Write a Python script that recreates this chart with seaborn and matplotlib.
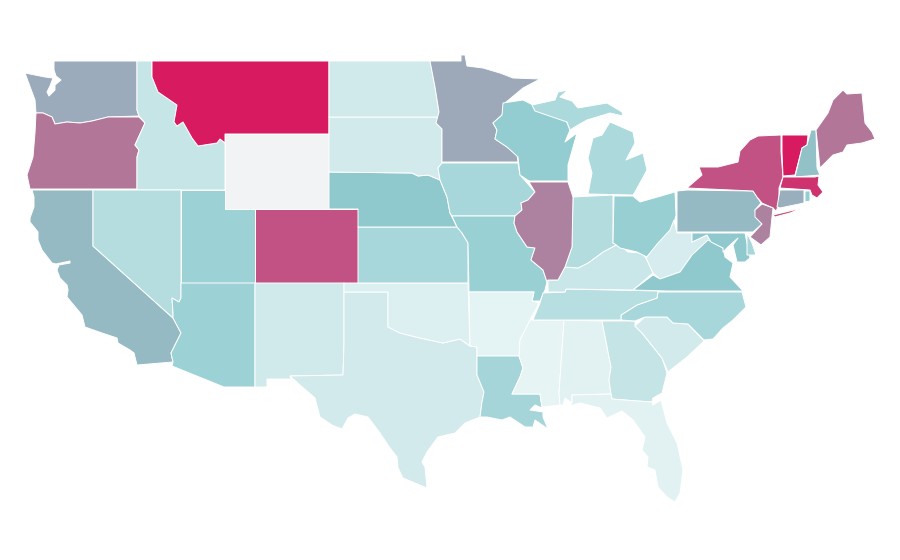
import seaborn as sns
from matplotlib import pyplot as plt
from matplotlib.collections import PolyCollection

# state outlines (x, y from top left)
WA = [(54,61),(137,61),(137,110),(139,116),(108,117),(92,121),(80,123),(67,122),(55,124),(52,117),(43,113),(36,113),(35,100),(25,73),(45,77),(53,78),(50,86),(47,92),(49,96),(55,90),(55,85),(61,80),(56,76),(54,70)]
OR = [(36,113),(43,113),(52,117),(55,124),(67,122),(80,123),(92,121),(108,117),(139,117),(145,123),(135,145),(139,150),(137,157),(137,189),(30,189),(27,175),(33,157),(35,133)]
ID = [(137,61),(152,61),(152,77),(158,92),(177,105),(174,122),(177,126),(183,122),(192,138),(198,146),(217,143),(220,139),(225,143),(225,190),(137,190),(137,157),(139,150),(135,145),(145,123),(139,116),(137,110)]
MT = [(152,61),(329,61),(329,134),(225,134),(225,143),(220,139),(217,143),(198,146),(192,138),(183,122),(177,126),(174,122),(177,105),(158,92),(152,77)]
WY = [(225,134),(329,134),(329,209),(225,209)]
CA = [(32,190),(93,190),(93,246),(173,318),(181,333),(174,347),(171,353),(173,362),(137,365),(134,353),(130,350),(118,343),(117,338),(102,333),(85,327),(82,315),(67,297),(68,290),(67,285),(60,278),(57,270),(59,265),(70,263),(70,261),(56,264),(52,263),(42,250),(38,240),(38,232),(30,222),(30,218),(34,207),(34,197)]
NV = [(93,190),(181,190),(181,298),(179,302),(172,298),(173,313),(173,318),(93,246)]
UT = [(181,190),(225,190),(225,209),(255,209),(255,283),(181,283)]
CO = [(255,209),(358,209),(358,283),(255,283)]
AZ = [(181,283),(255,283),(255,387),(224,387),(172,366),(173,362),(171,353),(174,347),(181,333),(173,318),(173,313),(172,298),(179,302),(181,298)]
NM = [(255,283),(344,283),(344,343),(343,375),(290,376),(291,379),(267,379),(267,387),(255,387)]
TX = [(344,292),(388,292),(388,327),(400,333),(420,338),(443,343),(460,339),(470,346),(477,347),(477,375),(484,392),(482,402),(480,417),(465,423),(455,433),(438,437),(427,452),(422,462),(425,467),(427,488),(403,478),(398,468),(397,457),(390,448),(380,433),(368,417),(355,414),(348,418),(342,429),(332,425),(320,417),(315,398),(300,385),(290,376),(343,375),(344,343)]
OK = [(344,283),(468,283),(470,346),(460,339),(443,343),(420,338),(400,333),(388,327),(388,292),(344,292)]
KS = [(358,227),(457,227),(462,233),(468,243),(468,283),(358,283)]
NE = [(329,172),(412,173),(418,176),(428,175),(440,180),(447,197),(450,213),(457,227),(358,227),(358,209),(329,209)]
SD = [(329,117),(439,117),(436,123),(442,129),(442,163),(438,168),(440,180),(428,175),(418,176),(412,173),(329,172)]
ND = [(329,61),(430,61),(435,87),(439,112),(439,117),(329,117)]
MN = [(430,61),(461,61),(461,55),(465,55),(467,66),(483,68),(500,73),(513,78),(540,79),(523,88),(505,103),(502,115),(493,123),(497,130),(495,139),(507,147),(517,155),(518,162),(442,162),(442,129),(436,123),(439,112),(435,87)]
IA = [(442,163),(518,163),(520,175),(535,192),(528,200),(521,203),(522,210),(515,216),(452,216),(450,213),(447,197),(440,180),(438,168)]
MO = [(452,216),(515,216),(514,223),(517,232),(527,247),(535,248),(531,260),(543,270),(547,282),(545,290),(540,301),(532,301),(534,292),(469,292),(468,243),(462,233),(457,227)]
AR = [(469,292),(534,292),(532,301),(539,303),(530,320),(520,340),(519,356),(477,356),(477,347),(470,346)]
LA = [(477,356),(519,356),(523,368),(520,377),(512,394),(540,394),(542,408),(535,405),(530,410),(543,412),(543,417),(548,429),(535,420),(533,427),(525,427),(510,417),(502,420),(487,417),(480,417),(482,402),(484,392),(477,375)]
MS = [(530,320),(564,320),(559,393),(560,405),(542,407),(540,394),(512,394),(520,377),(523,368),(519,356),(520,340)]
AL = [(564,320),(602,321),(611,367),(609,380),(611,394),(572,395),(572,403),(565,398),(563,405),(560,405),(559,393)]
GA = [(602,321),(635,321),(635,326),(642,333),(662,358),(667,373),(662,393),(653,398),(652,402),(637,401),(612,399),(611,394),(609,380),(611,367)]
FL = [(572,395),(611,394),(612,399),(637,401),(652,402),(653,405),(661,400),(667,423),(677,443),(683,470),(680,493),(675,502),(667,497),(658,487),(655,470),(647,467),(648,457),(642,450),(645,437),(633,420),(622,411),(607,418),(600,408),(580,403),(570,406),(572,403)]
SC = [(635,326),(645,317),(667,317),(673,323),(688,324),(704,341),(687,357),(668,372),(662,358),(642,333)]
NC = [(658,292),(742,292),(746,307),(733,320),(723,328),(713,339),(704,340),(688,324),(673,323),(667,317),(645,317),(635,321),(621,320),(621,315),(637,305),(657,298)]
TN = [(543,293),(565,292),(566,289),(658,291),(657,298),(637,305),(621,315),(621,320),(533,320),(540,303)]
KY = [(548,292),(565,292),(566,289),(633,290),(653,273),(646,258),(641,253),(628,252),(618,244),(603,252),(588,263),(578,268),(565,267),(558,280),(548,280)]
IN = [(573,197),(613,195),(613,243),(618,244),(603,252),(588,263),(578,268),(565,267),(572,247)]
IL = [(529,182),(568,182),(573,197),(572,247),(565,267),(558,280),(548,280),(547,282),(543,270),(531,260),(535,248),(527,247),(517,232),(514,223),(515,216),(522,210),(521,203),(528,200),(535,192)]
WI = [(503,103),(523,100),(533,105),(535,110),(565,118),(570,130),(565,142),(577,133),(568,165),(568,181),(529,181),(520,175),(518,157),(507,147),(495,139),(497,130),(493,123),(502,115)]
MI = [(610,122),(633,132),(635,143),(626,160),(643,153),(647,170),(635,192),(633,195),(588,194),(592,173),(588,158),(593,138),(602,135)]
MI_UPPER = [(532,105),(555,100),(558,92),(568,90),(560,97),(572,101),(578,108),(607,103),(622,112),(623,116),(610,113),(587,120),(578,125),(570,130),(567,122),(535,111)]
OH = [(614,196),(633,196),(640,202),(675,192),(676,215),(672,232),(657,245),(647,257),(637,252),(620,248),(615,244),(613,243)]
WV = [(646,258),(658,243),(670,230),(674,220),(677,233),(692,233),(692,242),(707,235),(711,242),(700,248),(692,255),(680,272),(660,279),(653,273)]
VA = [(633,290),(653,275),(660,279),(680,272),(692,255),(708,240),(723,248),(725,257),(733,263),(730,277),(743,291),(667,291)]
MD = [(692,233),(745,233),(750,258),(745,262),(737,262),(733,245),(738,238),(730,245),(723,252),(723,248),(711,242),(707,235),(692,242)]
DE = [(747,233),(747,255),(756,255),(752,243)]
PA = [(677,191),(687,190),(753,191),(757,197),(761,203),(755,210),(756,217),(762,224),(753,232),(677,232)]
NY = [(687,188),(702,175),(699,167),(718,167),(738,162),(740,151),(750,140),(758,136),(781,135),(781,152),(783,177),(779,188),(779,205),(776,211),(773,208),(762,203),(757,197),(753,191)]
NY_ISLAND = [(773,215),(802,208),(790,213),(775,217)]
NJ = [(762,204),(773,208),(772,217),(770,237),(761,245),(750,237),(762,224),(755,217),(755,210)]
VT = [(782,135),(808,135),(807,145),(802,148),(795,175),(783,176),(782,152)]
NH = [(811,130),(816,130),(817,168),(820,175),(795,177),(802,148),(807,145)]
ME = [(816,130),(828,113),(833,100),(843,90),(847,94),(862,93),(865,123),(872,132),(875,139),(862,143),(847,145),(843,152),(833,155),(820,168)]
MA = [(783,177),(815,177),(819,176),(818,185),(823,192),(817,198),(812,195),(810,190),(780,188)]
MA_ISLAND = [(822,198),(830,195),(824,197)]
CT = [(780,190),(804,190),(804,203),(780,208),(777,207)]
RI = [(805,191),(810,191),(810,201),(805,202)]

state_shapes = [WA, OR, ID, MT, WY, CA, NV, UT, CO, AZ, NM, TX, OK, KS, NE, SD, ND, MN, IA, MO, AR, LA, MS, AL, GA, FL, SC, NC, TN, KY, IN, IL, WI, MI, MI_UPPER, OH, WV, VA, MD, DE, PA, NY, NY_ISLAND, NJ, VT, NH, ME, MA, MA_ISLAND, CT, RI]
# values read from the fill colours, nan = no data (Wyoming)
state_values = [59, 74, 25, 100, float("nan"), 55, 33, 44, 84, 44, 21, 20, 15, 39, 51, 20, 21, 60, 39, 45, 12, 40, 11, 13, 26, 13, 20, 39, 32, 24, 34, 71, 48, 37, 37, 46, 18, 51, 51, 39, 55, 84, 84, 71, 100, 53, 74, 93, 93, 58, 47]

sns.set_style("white")
cmap = sns.blend_palette(["#ffffff", "#8ecbcf", "#d81b60"], as_cmap=True)
cmap.set_bad("#f2f3f5")

fig, ax = plt.subplots(figsize=(9, 5.6), dpi=100)
fig.subplots_adjust(left=0, right=1, bottom=0, top=1)
polys = PolyCollection(state_shapes, array=state_values, cmap=cmap, edgecolors="white", linewidths=0.7)
polys.set_clim(0, 100)
ax.add_collection(polys)
ax.set_xlim(0, 900)
ax.set_ylim(560, 0)
ax.axis("off")
fig.savefig("out.png", dpi=100)
